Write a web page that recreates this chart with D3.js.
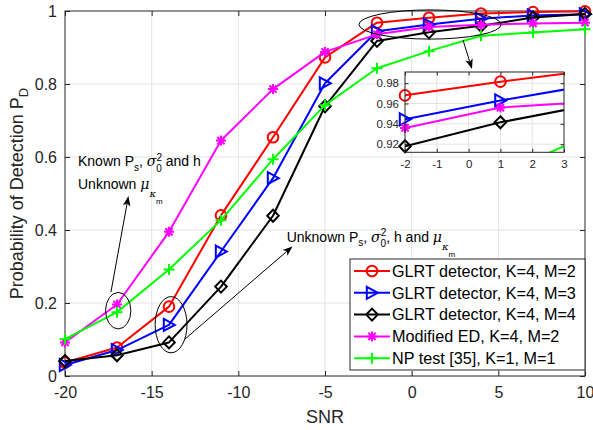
<!DOCTYPE html>
<html>
<head>
<meta charset="utf-8">
<script src="https://cdn.jsdelivr.net/npm/d3@7"></script>
<style>
  body { margin: 0; background: #fff; }
  svg { display: block; font-family: "Liberation Sans", Arial, Helvetica, sans-serif; }
</style>
</head>
<body>
<svg id="chart" width="593" height="430"></svg>
<script>
// SNR sample points (dB)
const snr = [-20, -17, -14, -11, -8, -5, -2, 1, 4, 7, 10];

// Probability of detection for each detector
const glrtM2 = [0.037, 0.078, 0.190, 0.440, 0.654, 0.873, 0.968, 0.9815, 0.993, 0.997, 0.999];
const glrtM3 = [0.030, 0.071, 0.140, 0.341, 0.542, 0.802, 0.9445, 0.963, 0.979, 0.988, 0.991];
const glrtM4 = [0.041, 0.057, 0.092, 0.245, 0.439, 0.739, 0.918, 0.9415, 0.9595, 0.982, 0.992];
const modED  = [0.092, 0.196, 0.395, 0.645, 0.786, 0.888, 0.936, 0.956, 0.962, 0.966, 0.968];
const npTest = [0.101, 0.175, 0.292, 0.427, 0.594, 0.742, 0.843, 0.890, 0.932, 0.941, 0.950];

const seriesNames = [
  "GLRT detector, K=4, M=2",
  "GLRT detector, K=4, M=3",
  "GLRT detector, K=4, M=4",
  "Modified ED, K=4, M=2",
  "NP test [35], K=1, M=1"
];
const seriesColors = ["#ff0000", "#0000ff", "#000000", "#ff00ff", "#00ff00"];
const seriesMarkers = ["circle", "triangle", "diamond", "asterisk", "plus"];
const seriesValues = [glrtM2, glrtM3, glrtM4, modED, npTest];

// Tick labels
const xTicks = [-20, -15, -10, -5, 0, 5, 10];
const yTicks = [0, 0.2, 0.4, 0.6, 0.8, 1];
const insetXTicks = [-2, -1, 0, 1, 2, 3];
const insetYTicks = [0.92, 0.94, 0.96, 0.98];

const xLabel = "SNR";
const yLabel = "Probability of Detection P";
const yLabelSub = "D";

const series = seriesNames.map((name, i) => ({
  name, color: seriesColors[i], marker: seriesMarkers[i],
  points: snr.map((s, j) => ({ snr: s, pd: seriesValues[i][j] }))
}));

const svg = d3.select("#chart");
const axisColor = "#262626";
const gridColor = "#e3e3e3";

const plot = { left: 65, top: 11, right: 585, bottom: 376 };
const x = d3.scaleLinear().domain([-20, 10]).range([plot.left, plot.right]);
const y = d3.scaleLinear().domain([0, 1]).range([plot.bottom, plot.top]);

// Marker shapes as path strings
function markerPath(type) {
  switch (type) {
    case "circle": { const r = 5.3; return `M${r},0A${r},${r} 0 1 1 ${-r},0A${r},${r} 0 1 1 ${r},0Z`; }
    case "triangle": return "M-5.2,-6L5.8,0L-5.2,6Z";
    case "diamond": return "M0,-6L5.8,0L0,6L-5.8,0Z";
    case "asterisk": return "M-5,0H5M0,-5V5M-3.6,-3.6L3.6,3.6M-3.6,3.6L3.6,-3.6";
    case "plus": return "M-5.5,0H5.5M0,-5.5V5.5";
  }
}

// Background
svg.append("rect").attr("width", 593).attr("height", 430).attr("fill", "#fff");

// Grid
const grid = svg.append("g");
grid.selectAll("line.gx").data(xTicks.slice(1, -1)).join("line")
  .attr("x1", d => x(d)).attr("x2", d => x(d))
  .attr("y1", plot.top).attr("y2", plot.bottom)
  .attr("stroke", gridColor).attr("stroke-width", 1);
grid.selectAll("line.gy").data(yTicks.slice(1, -1)).join("line")
  .attr("y1", d => y(d)).attr("y2", d => y(d))
  .attr("x1", plot.left).attr("x2", plot.right)
  .attr("stroke", gridColor).attr("stroke-width", 1);

// Axes (ticks pointing inward on all four sides)
function styleAxis(g, fontSize) {
  g.select("path.domain").remove();
  g.selectAll("line").attr("stroke", axisColor);
  g.selectAll("text").attr("fill", axisColor).style("font-size", fontSize + "px")
    .style("font-family", "'Liberation Sans', Arial, sans-serif");
}
const fmt = d => String(d);
svg.append("g").attr("transform", `translate(0,${plot.bottom})`)
  .call(d3.axisBottom(x).tickValues(xTicks).tickFormat(fmt).tickSize(-5).tickPadding(11))
  .call(g => styleAxis(g, 16));
svg.append("g").attr("transform", `translate(0,${plot.top})`)
  .call(d3.axisTop(x).tickValues(xTicks).tickFormat("").tickSize(-5))
  .call(g => styleAxis(g, 16));
svg.append("g").attr("transform", `translate(${plot.left},0)`)
  .call(d3.axisLeft(y).tickValues(yTicks).tickFormat(fmt).tickSize(-5).tickPadding(8))
  .call(g => styleAxis(g, 16));
svg.append("g").attr("transform", `translate(${plot.right},0)`)
  .call(d3.axisRight(y).tickValues(yTicks).tickFormat("").tickSize(-5))
  .call(g => styleAxis(g, 16));
svg.append("rect")
  .attr("x", plot.left).attr("y", plot.top)
  .attr("width", plot.right - plot.left).attr("height", plot.bottom - plot.top)
  .attr("fill", "none").attr("stroke", axisColor).attr("stroke-width", 1);

// Axis labels
svg.append("text").attr("x", (plot.left + plot.right) / 2).attr("y", 423)
  .attr("text-anchor", "middle").attr("fill", axisColor).style("font-size", "18px")
  .text(xLabel);
const yl = svg.append("text")
  .attr("transform", `translate(23,${(plot.top + plot.bottom) / 2}) rotate(-90)`)
  .attr("text-anchor", "middle").attr("fill", axisColor).style("font-size", "18px");
yl.append("tspan").text(yLabel);
yl.append("tspan").attr("dy", 5).style("font-size", "13px").text(yLabelSub);

// Series lines and markers
function drawSeries(g, xs, ys, filterFn, clipId) {
  const line = d3.line().x(d => xs(d.snr)).y(d => ys(d.pd));
  series.forEach(s => {
    const sg = g.append("g");
    const path = sg.append("path").datum(s.points)
      .attr("d", line).attr("fill", "none")
      .attr("stroke", s.color).attr("stroke-width", 2).attr("stroke-linejoin", "round");
    if (clipId) path.attr("clip-path", `url(#${clipId})`);
    sg.selectAll("path.mk").data(s.points.filter(filterFn)).join("path")
      .attr("class", "mk")
      .attr("transform", d => `translate(${xs(d.snr)},${ys(d.pd)})`)
      .attr("d", markerPath(s.marker))
      .attr("fill", "none").attr("stroke", s.color).attr("stroke-width", 2);
  });
}
drawSeries(svg.append("g"), x, y, () => true, null);

// Annotations: ellipses, arrows and notes (positions in data units)
function ellipse(cx, cy, rx, ry) {
  svg.append("ellipse")
    .attr("cx", x(cx)).attr("cy", y(cy))
    .attr("rx", x(cx + rx) - x(cx)).attr("ry", y(cy) - y(cy + ry))
    .attr("fill", "none").attr("stroke", "#000").attr("stroke-width", 1);
}
function arrow(xa, ya, xb, yb) {
  const x1 = x(xa), y1 = y(ya), x2 = x(xb), y2 = y(yb);
  const ang = Math.atan2(y2 - y1, x2 - x1);
  const L = 10, Wd = 3.8, N = 7.5;
  const c = Math.cos(ang), s = Math.sin(ang);
  const pt = (a, b) => [x2 - a * c + b * s, y2 - a * s - b * c];
  svg.append("line").attr("x1", x1).attr("y1", y1)
    .attr("x2", pt(N, 0)[0]).attr("y2", pt(N, 0)[1])
    .attr("stroke", "#000").attr("stroke-width", 1);
  svg.append("path")
    .attr("d", "M" + [[x2, y2], pt(L, Wd), pt(N, 0), pt(L, -Wd)].map(p => p.join(",")).join("L") + "Z")
    .attr("fill", "#000");
}
ellipse(-16.93, 0.179, 0.73, 0.050);
ellipse(-13.88, 0.1405, 0.92, 0.077);
ellipse(1.06, 0.963, 4.10, 0.040);
arrow(-17.35, 0.230, -16.34, 0.493);
arrow(-13.08, 0.101, -6.875, 0.355);
arrow(2.96, 0.921, 3.48, 0.841);

// Rich text with sub/superscripts: parts = [text, size, shift, italic, dx]
function rich(px, py, parts) {
  const t = svg.append("text").attr("x", x(px)).attr("y", y(py))
    .attr("fill", "#000").style("font-size", "14px");
  let cur = 0;
  parts.forEach(([txt, size, shift, italic, dx]) => {
    const sp = t.append("tspan").text(txt).style("font-size", size + "px")
      .attr("dy", shift - cur);
    if (dx) sp.attr("dx", dx);
    if (italic) sp.style("font-style", "italic").style("font-family", "'DejaVu Serif', 'Liberation Serif', serif");
    cur = shift;
  });
}
rich(-19.25, 0.575, [
  ["Known P", 14, 0], ["s", 10, 4.5], [", ", 14, 0],
  ["σ", 14, 0, true], ["2", 10, -5.5], ["0", 10, 5.5, false, -5.6],
  [" and h", 14, 0]
]);
rich(-19.25, 0.512, [
  ["Unknown ", 14, 0], ["μ", 14, 0, true], ["κ", 10, 8, true], ["m", 8, 15]
]);
rich(-7.21, 0.368, [
  ["Unknown P", 14, 0], ["s", 10, 4.5], [", ", 14, 0],
  ["σ", 14, 0, true], ["2", 10, -5.5], ["0", 10, 5.5, false, -5.6],
  [", h and ", 14, 0], ["μ", 14, 0, true], ["κ", 10, 8, true], ["m", 8, 15]
]);

// Inset zoom on the high-SNR region
const inset = { left: 405, top: 72, right: 564, bottom: 152.3 };
const xi = d3.scaleLinear().domain([-2, 3]).range([inset.left, inset.right]);
const yi = d3.scaleLinear().domain([0.912, 0.991]).range([inset.bottom, inset.top]);
svg.append("defs").append("clipPath").attr("id", "insetClip")
  .append("rect").attr("x", inset.left).attr("y", inset.top)
  .attr("width", inset.right - inset.left).attr("height", inset.bottom - inset.top);
const ig = svg.append("g");
ig.append("rect").attr("x", inset.left).attr("y", inset.top)
  .attr("width", inset.right - inset.left).attr("height", inset.bottom - inset.top)
  .attr("fill", "#fff");
ig.selectAll("line.igx").data(insetXTicks.slice(1, -1)).join("line")
  .attr("x1", d => xi(d)).attr("x2", d => xi(d))
  .attr("y1", inset.top).attr("y2", inset.bottom)
  .attr("stroke", gridColor);
ig.selectAll("line.igy").data(insetYTicks).join("line")
  .attr("y1", d => yi(d)).attr("y2", d => yi(d))
  .attr("x1", inset.left).attr("x2", inset.right)
  .attr("stroke", gridColor);
ig.append("g").attr("transform", `translate(0,${inset.bottom})`)
  .call(d3.axisBottom(xi).tickValues(insetXTicks).tickFormat(fmt).tickSize(-3.5).tickPadding(8))
  .call(g => styleAxis(g, 11.5));
ig.append("g").attr("transform", `translate(0,${inset.top})`)
  .call(d3.axisTop(xi).tickValues(insetXTicks).tickFormat("").tickSize(-3.5))
  .call(g => styleAxis(g, 11.5));
ig.append("g").attr("transform", `translate(${inset.left},0)`)
  .call(d3.axisLeft(yi).tickValues(insetYTicks).tickFormat(d3.format(".2f")).tickSize(-3.5).tickPadding(6))
  .call(g => styleAxis(g, 11.5));
ig.append("g").attr("transform", `translate(${inset.right},0)`)
  .call(d3.axisRight(yi).tickValues(insetYTicks).tickFormat("").tickSize(-3.5))
  .call(g => styleAxis(g, 11.5));
drawSeries(ig.append("g"), xi, yi,
  d => d.snr >= -2 && d.snr <= 3 && d.pd >= 0.912 && d.pd <= 0.991, "insetClip");
ig.append("rect").attr("x", inset.left).attr("y", inset.top)
  .attr("width", inset.right - inset.left).attr("height", inset.bottom - inset.top)
  .attr("fill", "none").attr("stroke", axisColor);

// Legend
const lg = svg.append("g");
const lgBox = { x: 350, y: 259, w: 235, h: 111 };
lg.append("rect").attr("x", lgBox.x).attr("y", lgBox.y)
  .attr("width", lgBox.w).attr("height", lgBox.h)
  .attr("fill", "#fff").attr("stroke", axisColor).attr("stroke-width", 1);
series.forEach((s, i) => {
  const ry = 271 + i * 21.8;
  lg.append("line").attr("x1", 354).attr("x2", 390).attr("y1", ry).attr("y2", ry)
    .attr("stroke", s.color).attr("stroke-width", 2);
  lg.append("path").attr("transform", `translate(372,${ry})`)
    .attr("d", markerPath(s.marker)).attr("fill", "none")
    .attr("stroke", s.color).attr("stroke-width", 2);
  lg.append("text").attr("x", 392).attr("y", ry).attr("dy", "0.36em")
    .attr("fill", "#000").style("font-size", "16.2px").text(s.name);
});
</script>
</body>
</html>
